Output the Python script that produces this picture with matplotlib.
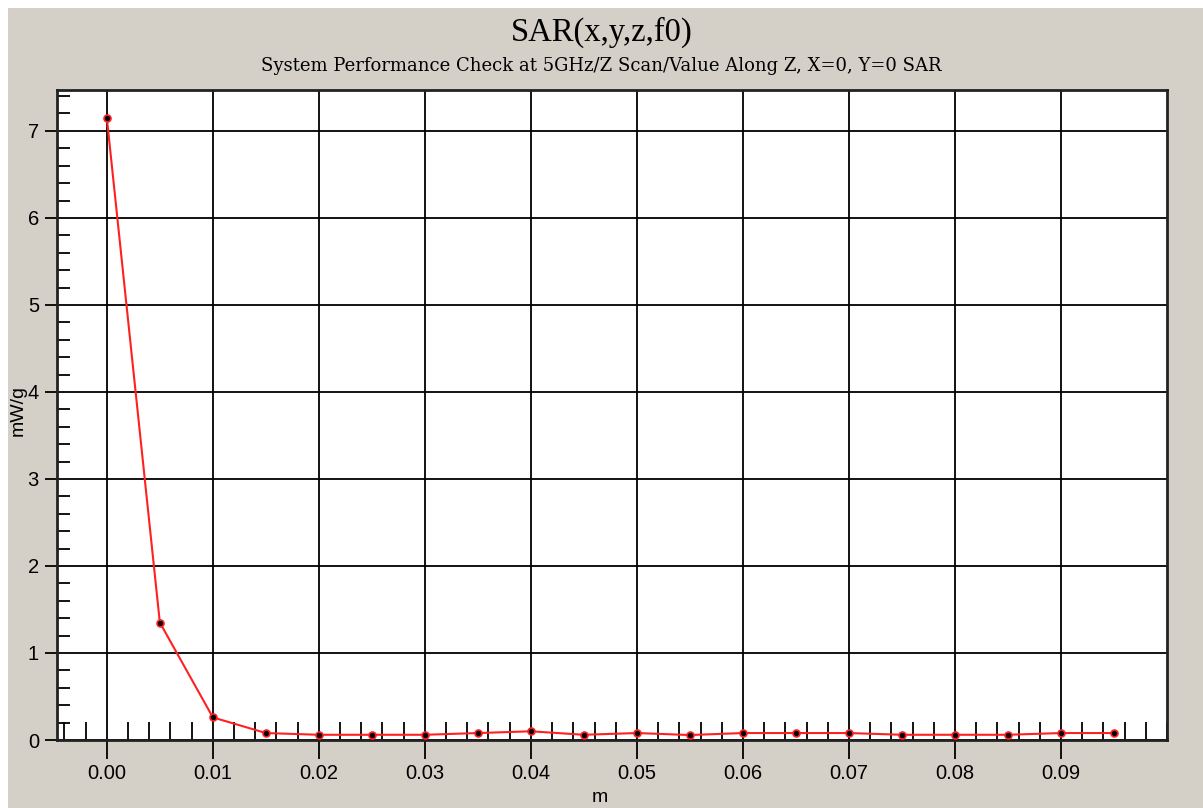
import numpy as np
import matplotlib.pyplot as plt
from matplotlib.patches import Rectangle
from matplotlib.ticker import MultipleLocator

# z position (m) and SAR (mW/g)
z = [0.000, 0.005, 0.010, 0.015, 0.020, 0.025, 0.030, 0.035, 0.040, 0.045,
     0.050, 0.055, 0.060, 0.065, 0.070, 0.075, 0.080, 0.085, 0.090, 0.095]
sar = [7.15, 1.35, 0.26, 0.08, 0.06, 0.06, 0.06, 0.08, 0.10, 0.06,
       0.08, 0.057, 0.08, 0.08, 0.08, 0.06, 0.06, 0.06, 0.08, 0.08]
xticks = [0.00, 0.01, 0.02, 0.03, 0.04, 0.05, 0.06, 0.07, 0.08, 0.09]
xticklabels = ['0.00', '0.01', '0.02', '0.03', '0.04', '0.05', '0.06', '0.07', '0.08', '0.09']
yticks = [0, 1, 2, 3, 4, 5, 6, 7]

bg = '#d4d0c8'
fig = plt.figure(figsize=(12.03, 8.08), dpi=100)
fig.patch.set_facecolor('white')
fig.patches.append(Rectangle((8 / 1203, 0), 1, (808 - 8) / 808, transform=fig.transFigure,
                             facecolor=bg, edgecolor='none', zorder=-10))

ax = fig.add_axes([57 / 1203, 68 / 808, (1167 - 57) / 1203, (740 - 90) / 808])
ax.set_facecolor('white')

ax.plot(z, sar, color='#ff2020', lw=1.5, zorder=3)
ax.plot(z, sar, ls='none', marker='o', ms=5, mfc='black', mec='#ff2020', mew=1.2, zorder=4)

ax.set_xlim(-0.0047, 0.1)
ax.set_ylim(0, 7.47)
ax.set_xticks(xticks)
ax.set_xticklabels(xticklabels)
ax.set_yticks(yticks)
ax.xaxis.set_minor_locator(MultipleLocator(0.002))
ax.yaxis.set_minor_locator(MultipleLocator(0.2))
ax.grid(True, which='major', color='black', lw=1.3)
ax.tick_params(which='major', direction='out', width=1.3, color='black', labelsize=14.5)
ax.tick_params(axis='x', which='major', length=14, pad=3)
ax.tick_params(axis='y', which='major', length=9, pad=4)
ax.tick_params(axis='x', which='minor', direction='in', length=13, width=1.3, color='black')
ax.tick_params(axis='y', which='minor', direction='in', length=9, width=1.3, color='black')
for lab in ax.get_xticklabels() + ax.get_yticklabels():
    lab.set_fontfamily('Liberation Sans')
for s in ax.spines.values():
    s.set_linewidth(2)
    s.set_color('#222222')

fig.text(0.5, (808 - 32) / 808, 'SAR(x,y,z,f0)', ha='center', va='center',
         fontsize=23.5, family='Liberation Serif')
fig.text(0.5, (808 - 66) / 808, 'System Performance Check at 5GHz/Z Scan/Value Along Z, X=0, Y=0 SAR',
         ha='center', va='center', fontsize=13, family='DejaVu Serif')
fig.text(18 / 1203, (808 - 410) / 808, 'mW/g', rotation=90, ha='center', va='center',
         fontsize=14, family='Liberation Sans')
fig.text(600 / 1203, (808 - 797) / 808, 'm', ha='center', va='center',
         fontsize=14, family='Liberation Sans')

fig.savefig('out.png', dpi=100, facecolor=fig.get_facecolor())
